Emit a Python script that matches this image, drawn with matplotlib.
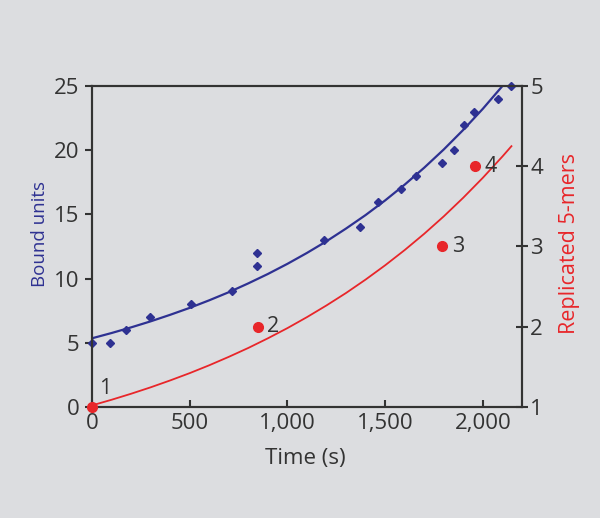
import numpy as np
import matplotlib.pyplot as plt

plt.rcParams['font.family'] = ['Open Sans', 'DejaVu Sans']

# bound units (blue diamonds)
t_bound = [0, 92, 172, 297, 506, 718, 846, 846, 1188, 1372, 1461, 1579, 1657,
           1792, 1854, 1905, 1956, 2078, 2146]
bound = [5, 5, 6, 7, 8, 9, 11, 12, 13, 14, 16, 17, 18, 19, 20, 22, 23, 24, 25]

# fitted curve for bound units, every 100 s
t_fit_b = [0, 100, 200, 300, 400, 500, 600, 700, 800, 900, 1000, 1100, 1200,
           1300, 1400, 1500, 1600, 1700, 1800, 1900, 2000, 2100]
fit_b = [5.35, 5.76, 6.20, 6.67, 7.18, 7.72, 8.31, 8.94, 9.63, 10.36, 11.15,
         12.0, 12.91, 13.9, 14.95, 16.09, 17.32, 18.64, 20.06, 21.59, 23.23, 25.0]

# replicated 5-mers (red dots)
t_rep = [0, 851, 1792, 1959]
rep = [1, 2, 3, 4]
rep_labels = ['1', '2', '3', '4']

t_fit_r = [0, 100, 200, 300, 400, 500, 600, 700, 800, 900, 1000, 1100, 1200,
           1300, 1400, 1500, 1600, 1700, 1800, 1900, 2000, 2100, 2146]
fit_r = [1.02, 1.09, 1.165, 1.245, 1.331, 1.422, 1.52, 1.625, 1.736, 1.856,
         1.983, 2.12, 2.266, 2.421, 2.588, 2.766, 2.956, 3.159, 3.376, 3.609,
         3.857, 4.122, 4.25]

bg = '#dcdde0'
blue = '#2e3192'
red = '#e8262a'
dark = '#333333'

fig = plt.figure(figsize=(6, 5.18), dpi=100, facecolor=bg)
ax = fig.add_axes([0.1533, 0.2143, 0.7167, 0.6197])
ax.set_facecolor(bg)
ax2 = ax.twinx()

ax.plot(t_fit_b, fit_b, color=blue, lw=1.6, zorder=2)
ax.plot(t_bound, bound, 'D', color=blue, ms=3.6, zorder=3, clip_on=False)

ax2.plot(t_fit_r, fit_r, color=red, lw=1.3, zorder=2)
ax2.plot(t_rep, rep, 'o', color=red, ms=7, zorder=3, clip_on=False)
offs = [(5, 13), (6, 0), (7, 0), (7, 0)]
for x, y, s, o in zip(t_rep, rep, rep_labels, offs):
    ax2.annotate(s, (x, y), xytext=o, textcoords='offset points',
                 va='center', ha='left', fontsize=15.5, color=dark)

ax.set_xlim(0, 2200)
ax.set_ylim(0, 25)
ax2.set_ylim(1, 5)

ax.set_xticks([0, 500, 1000, 1500, 2000])
ax.set_xticklabels(['0', '500', '1,000', '1,500', '2,000'])
ax.set_yticks([0, 5, 10, 15, 20, 25])
ax2.set_yticks([1, 2, 3, 4, 5])

for a in (ax, ax2):
    for sp in a.spines.values():
        sp.set_color(dark)
        sp.set_linewidth(1.5)

ax.tick_params(axis='y', direction='out', length=5, width=1.5, color=dark,
               labelsize=16, labelcolor=dark, pad=4)
ax.tick_params(axis='x', direction='in', length=5, width=1.5, color=dark,
               labelsize=16, labelcolor=dark, pad=4)
ax2.tick_params(axis='y', direction='inout', length=8, width=1.5, color=dark,
                labelsize=16, labelcolor=dark, pad=2)

ax.set_xlabel('Time (s)', fontsize=16, color=dark)
ax.xaxis.set_label_coords(0.497, -0.128)
ax.set_ylabel('Bound units', fontsize=13.5, color=blue)
ax.yaxis.set_label_coords(-0.10, 0.539)
ax2.set_ylabel('Replicated 5-mers', fontsize=15.5, color=red)
ax2.yaxis.set_label_coords(1.087, 0.51)

fig.savefig('out.png', dpi=100, facecolor=bg)
